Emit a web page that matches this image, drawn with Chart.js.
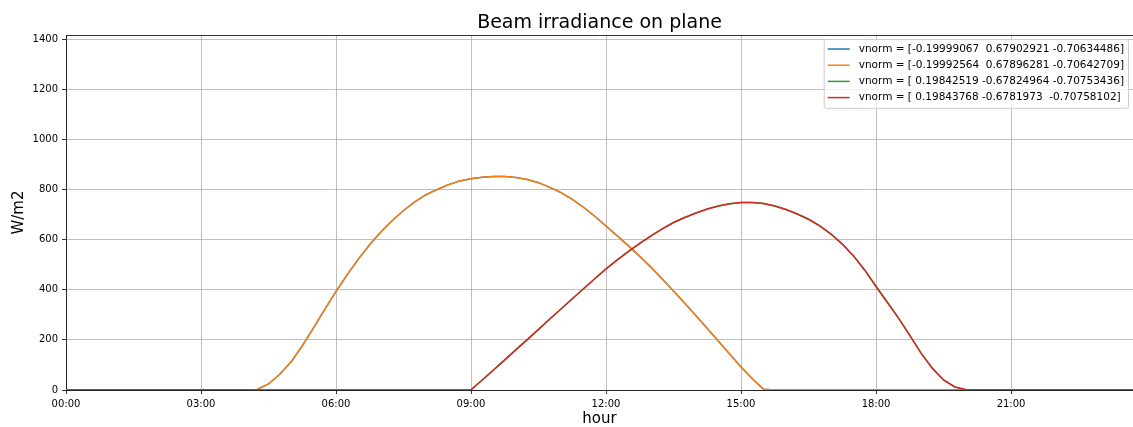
<!DOCTYPE html>
<html lang="en">
<head>
<meta charset="UTF-8">
<title>Beam irradiance on plane</title>
<style>
  body { margin: 0; background: #fff; }
  #wrap { width: 1133px; height: 427px; position: relative; }
</style>
</head>
<body>
<div id="wrap"><canvas id="chart"></canvas></div>
<script src="https://cdn.jsdelivr.net/npm/chart.js"></script>
<script>
// time steps every 15 minutes, in hours after midnight
const hours = Array.from({length: 96}, (_, i) => i / 4);

const seriesLabels = [
  'vnorm = [-0.19999067  0.67902921 -0.70634486]',
  'vnorm = [-0.19992564  0.67896281 -0.70642709]',
  'vnorm = [ 0.19842519 -0.67824964 -0.70753436]',
  'vnorm = [ 0.19843768 -0.6781973  -0.70758102]'
];
const seriesColors = ['#1f77b4', '#ff7f0e', '#2ca02c', '#d62728'];

// W/m2, one row = 2 hours
const beamBlue = [
  0, 0, 0, 0, 0, 0, 0, 0,
  0, 0, 0, 0, 0, 0, 0, 0,
  0, 2, 24, 63, 112, 176, 248, 322,
  393, 460, 523, 580, 631, 676, 716, 750,
  779, 800, 819, 834, 843, 849, 852, 852,
  848, 840, 827, 808, 787, 760, 729, 693,
  654, 615, 575, 533, 489, 443, 395, 346,
  296, 245, 194, 143, 92, 45, 3, 0,
  0, 0, 0, 0, 0, 0, 0, 0,
  0, 0, 0, 0, 0, 0, 0, 0,
  0, 0, 0, 0, 0, 0, 0, 0,
  0, 0, 0, 0, 0, 0, 0, 0
];
const beamOrange = [
  0, 0, 0, 0, 0, 0, 0, 0,
  0, 0, 0, 0, 0, 0, 0, 0,
  0, 2, 24, 63, 112, 176, 248, 322,
  393, 460, 523, 580, 631, 676, 716, 750,
  779, 800, 819, 834, 843, 849, 852, 852,
  848, 840, 827, 808, 787, 760, 729, 693,
  654, 615, 575, 533, 489, 443, 395, 346,
  296, 245, 194, 143, 92, 45, 3, 0,
  0, 0, 0, 0, 0, 0, 0, 0,
  0, 0, 0, 0, 0, 0, 0, 0,
  0, 0, 0, 0, 0, 0, 0, 0,
  0, 0, 0, 0, 0, 0, 0, 0
];
const beamGreen = [
  0, 0, 0, 0, 0, 0, 0, 0,
  0, 0, 0, 0, 0, 0, 0, 0,
  0, 0, 0, 0, 0, 0, 0, 0,
  0, 0, 0, 0, 0, 0, 0, 0,
  0, 0, 0, 0, 1, 40, 80, 120,
  161, 201, 242, 283, 323, 364, 404, 444,
  483, 519, 553, 585, 615, 643, 668, 688,
  706, 722, 734, 743, 748, 748, 744, 734,
  720, 702, 681, 655, 622, 582, 535, 478,
  413, 350, 287, 218, 147, 87, 40, 12,
  1, 0, 0, 0, 0, 0, 0, 0,
  0, 0, 0, 0, 0, 0, 0, 0
];
const beamRed = [
  0, 0, 0, 0, 0, 0, 0, 0,
  0, 0, 0, 0, 0, 0, 0, 0,
  0, 0, 0, 0, 0, 0, 0, 0,
  0, 0, 0, 0, 0, 0, 0, 0,
  0, 0, 0, 0, 1, 40, 80, 120,
  161, 201, 242, 283, 323, 364, 404, 444,
  483, 519, 553, 585, 615, 643, 668, 688,
  706, 722, 734, 743, 748, 748, 744, 734,
  720, 702, 681, 655, 622, 582, 535, 478,
  413, 350, 287, 218, 147, 87, 40, 12,
  1, 0, 0, 0, 0, 0, 0, 0,
  0, 0, 0, 0, 0, 0, 0, 0
];

const xTickHours = [0, 3, 6, 9, 12, 15, 18, 21];
const xTickLabels = ['00:00', '03:00', '06:00', '09:00', '12:00', '15:00', '18:00', '21:00'];
const yTicks = [0, 200, 400, 600, 800, 1000, 1200, 1400];

const font = '"DejaVu Sans", sans-serif';

// matplotlib style legend inside the axes (upper right) + top spine
const mplExtras = {
    id: 'mplExtras',
    beforeDatasetsDraw(chart) {
        const {ctx, chartArea} = chart;
        ctx.save();
        ctx.strokeStyle = '#000';
        ctx.lineWidth = 0.8;
        ctx.beginPath();
        ctx.moveTo(chartArea.left, chartArea.top + 0.5);
        ctx.lineTo(chartArea.right, chartArea.top + 0.5);
        ctx.stroke();
        ctx.restore();
    },
    afterDraw(chart) {
        const {ctx, chartArea} = chart;
        const sets = chart.data.datasets;
        ctx.save();
        ctx.font = '10.5px ' + font;
        const textW = Math.max(...sets.map(d => ctx.measureText(d.label).width));
        const rowH = 16.2;
        const right = chartArea.right - 5;
        const top = chartArea.top + 4;
        const w = textW + 39;
        const h = rowH * sets.length + 4;
        const left = right - w;
        ctx.beginPath();
        ctx.roundRect(left + 0.5, top + 0.5, w, h, 2);
        ctx.fillStyle = 'rgba(255,255,255,0.8)';
        ctx.fill();
        ctx.strokeStyle = '#cccccc';
        ctx.lineWidth = 1;
        ctx.stroke();
        sets.forEach((d, i) => {
            const y = top + 10 + i * rowH;
            ctx.strokeStyle = d.borderColor;
            ctx.lineWidth = 1.5;
            ctx.beginPath();
            ctx.moveTo(left + 4, y);
            ctx.lineTo(left + 26, y);
            ctx.stroke();
            ctx.fillStyle = '#000';
            ctx.textBaseline = 'middle';
            ctx.fillText(d.label, left + 35, y);
        });
        ctx.restore();
    }
};

const allSeries = [beamBlue, beamOrange, beamGreen, beamRed];

new Chart(document.getElementById('chart'), {
    type: 'line',
    data: {
        datasets: allSeries.map((vals, i) => ({
            label: seriesLabels[i],
            data: hours.map((hr, j) => ({x: hr, y: vals[j]})),
            borderColor: seriesColors[i],
            backgroundColor: seriesColors[i],
            borderWidth: 1.5,
            pointRadius: 0,
            tension: 0,
            order: 4 - i   // later series on top, as in matplotlib
        }))
    },
    options: {
        responsive: true,
        maintainAspectRatio: false,
        animation: false,
        devicePixelRatio: 1,
        layout: { padding: 0 },
        plugins: {
            legend: { display: false },
            tooltip: { enabled: false },
            title: {
                display: true,
                text: 'Beam irradiance on plane',
                fullSize: false,
                color: '#000',
                font: { family: font, size: 19, weight: 'normal', lineHeight: 1.2 },
                padding: { top: 12, bottom: 0.2 }
            }
        },
        scales: {
            x: {
                type: 'linear',
                min: 0,
                max: 23.71,
                afterFit: (s) => { s.height = 37; },
                afterBuildTicks: (s) => { s.ticks = xTickHours.map(v => ({value: v})); },
                ticks: {
                    autoSkip: false,
                    maxRotation: 0,
                    padding: 4,
                    color: '#000',
                    font: { family: font, size: 10 },
                    callback: (v) => xTickLabels[xTickHours.indexOf(v)]
                },
                grid: { color: '#b0b0b0', lineWidth: 0.8, tickColor: '#000', tickLength: 4, tickWidth: 0.8 },
                border: { color: '#000', width: 0.8 },
                title: {
                    display: true,
                    text: 'hour',
                    color: '#000',
                    font: { family: font, size: 15, lineHeight: 1.0 },
                    padding: 0
                }
            },
            y: {
                min: 0,
                max: 1416,
                afterFit: (s) => { s.width = 66; },
                afterBuildTicks: (s) => { s.ticks = yTicks.map(v => ({value: v})); },
                ticks: {
                    padding: 4,
                    color: '#000',
                    font: { family: font, size: 10 },
                    callback: (v) => String(v)
                },
                grid: { color: '#b0b0b0', lineWidth: 0.8, tickColor: '#000', tickLength: 4, tickWidth: 0.8 },
                border: { color: '#000', width: 0.8 },
                title: {
                    display: true,
                    text: 'W/m2',
                    color: '#000',
                    font: { family: font, size: 15, lineHeight: 1.2 },
                    padding: { top: 10, bottom: 0 }
                }
            }
        }
    },
    plugins: [mplExtras]
});
</script>
</body>
</html>
